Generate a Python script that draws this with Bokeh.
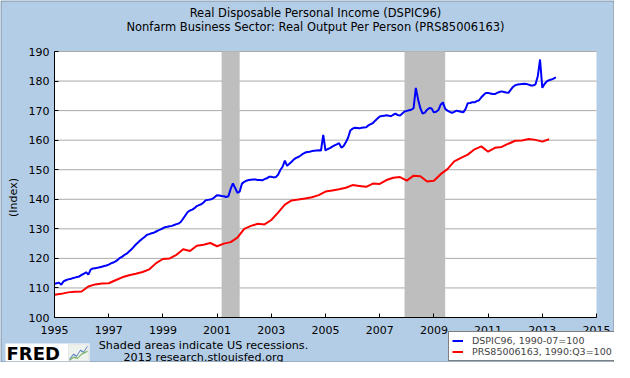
from bokeh.plotting import figure
from bokeh.models import (Label, BoxAnnotation, FixedTicker, Legend, LegendItem,
                          PolyAnnotation, Range1d)
from bokeh.embed import file_html
from bokeh.resources import INLINE

# ---------------- data ----------------
title_1 = "Real Disposable Personal Income (DSPIC96)"
title_2 = "Nonfarm Business Sector: Real Output Per Person (PRS85006163)"
y_label = "(Index)"
series_1_name = "DSPIC96, 1990-07=100"
series_2_name = "PRS85006163, 1990:Q3=100"
note_1 = "Shaded areas indicate US recessions."
note_2 = "2013 research.stlouisfed.org"

x_ticks = [1995, 1997, 1999, 2001, 2003, 2005, 2007, 2009, 2011, 2013, 2015]
x_tick_labels = ["1995", "1997", "1999", "2001", "2003", "2005", "2007",
                 "2009", "2011", "2013", "2015"]
y_ticks = [100, 110, 120, 130, 140, 150, 160, 170, 180, 190]

recession_start = [2001.167, 2007.917]
recession_end = [2001.833, 2009.417]

# DSPIC96 index, monthly from 1995-01
dspic_start_year = 1995
dspic96 = [
    111.4, 111.6, 111.8, 111.1, 112.2, 112.6, 112.9, 113.0, 113.3, 113.5, 113.7, 113.9,  # 1995
    114.4, 114.8, 115.3, 114.5, 116.2, 116.6, 116.7, 116.8, 117.0, 117.2, 117.4, 117.6,  # 1996
    117.9, 118.3, 118.6, 119.0, 119.5, 120.2, 120.6, 121.2, 121.6, 122.3, 123.0, 123.8,  # 1997
    124.7, 125.4, 126.1, 126.7, 127.3, 128.0, 128.2, 128.5, 128.7, 129.1, 129.5, 129.8,  # 1998
    130.2, 130.6, 130.7, 130.9, 131.0, 131.3, 131.6, 131.8, 132.4, 133.5, 134.6, 135.7,  # 1999
    136.2, 136.5, 137.0, 137.7, 138.0, 138.3, 138.9, 139.7, 139.8, 139.9, 140.2, 140.8,  # 2000
    141.4, 141.3, 141.1, 141.0, 140.8, 141.0, 143.5, 145.4, 143.8, 142.2, 142.6, 145.3,  # 2001
    145.9, 146.3, 146.5, 146.6, 146.7, 146.7, 146.5, 146.5, 146.4, 146.8, 147.1, 147.6,  # 2002
    147.6, 147.4, 147.5, 148.3, 149.9, 151.0, 153.1, 151.3, 152.0, 152.7, 153.5, 154.0,  # 2003
    154.3, 154.8, 155.4, 155.8, 156.0, 156.1, 156.3, 156.4, 156.5, 156.6, 156.5, 161.8,  # 2004
    156.5, 157.0, 157.3, 157.8, 158.2, 158.6, 159.0, 157.5, 158.0, 159.3, 160.8, 163.3,  # 2005
    163.9, 164.2, 164.1, 164.0, 164.2, 164.3, 164.4, 165.0, 165.4, 165.8, 166.6, 167.3,  # 2006
    168.0, 168.2, 168.3, 168.4, 168.3, 168.1, 168.6, 169.0, 168.5, 168.3, 169.0, 169.7,  # 2007
    169.9, 170.1, 170.3, 170.8, 177.7, 173.8, 170.8, 169.0, 169.3, 170.3, 170.9, 170.7,  # 2008
    169.4, 169.6, 170.2, 172.0, 172.8, 170.6, 170.0, 169.6, 169.2, 169.6, 170.0, 169.8,  # 2009
    169.6, 169.4, 170.5, 172.5, 172.6, 172.8, 172.8, 173.2, 173.5, 174.5, 175.3, 176.0,  # 2010
    176.0, 175.8, 175.6, 175.6, 176.0, 176.3, 176.5, 176.3, 176.1, 176.0, 177.0, 178.0,  # 2011
    178.6, 178.8, 178.9, 179.0, 179.1, 179.0, 178.8, 178.5, 178.5, 178.9, 181.6, 187.3,  # 2012
    177.7, 179.0, 179.9, 180.3, 180.5, 180.8, 181.3,                                     # 2013
]

# PRS85006163 index, quarterly from 1995Q1
prs_start_year = 1995
prs85006163 = [
    107.7, 108.0, 108.5, 108.7,  # 1995
    108.8, 110.5, 111.2, 111.5,  # 1996
    111.6, 112.6, 113.6, 114.3,  # 1997
    114.8, 115.4, 116.3, 118.4,  # 1998
    119.8, 120.0, 121.2, 123.1,  # 1999
    122.5, 124.3, 124.6, 125.2,  # 2000
    124.1, 125.0, 125.5, 127.0,  # 2001
    130.0, 131.0, 131.7, 131.5,  # 2002
    133.0, 135.5, 138.2, 139.6,  # 2003
    139.9, 140.3, 140.7, 141.4,  # 2004
    142.6, 143.0, 143.4, 143.9,  # 2005
    144.8, 144.5, 144.2, 145.3,  # 2006
    145.2, 146.5, 147.3, 147.5,  # 2007
    146.3, 148.0, 147.8, 146.0,  # 2008
    146.3, 148.5, 150.2, 152.8,  # 2009
    154.0, 155.1, 156.9, 157.9,  # 2010
    156.1, 157.4, 157.7, 158.8,  # 2011
    159.8, 159.9, 160.4, 160.1,  # 2012
    159.5, 160.3,                # 2013
]

dspic_dates = [dspic_start_year + i / 12 for i in range(len(dspic96))]
prs_dates = [prs_start_year + i / 4 for i in range(len(prs85006163))]

# ---------------- layout ----------------
W, H = 614, 362
PL, PT, PW, PH = 54, 51, 542, 266   # plot area (data box) inside the canvas
X0, X1, Y0, Y1 = 1995, 2015, 100, 190
FONT = "DejaVu Sans"
BG = "#B4CDE6"

xpp = (X1 - X0) / PW
ypp = (Y1 - Y0) / PH
x_range = Range1d(X0 - PL * xpp, X1 + (W - PL - PW) * xpp)
y_range = Range1d(Y0 - (H - PT - PH) * ypp, Y1 + PT * ypp)


def sx(fx):
    return fx


def sy(fy):
    return H - fy


p = figure(width=W, height=H, x_range=x_range, y_range=y_range,
           output_backend="svg", toolbar_location=None,
           min_border_left=0, min_border_right=0,
           min_border_top=0, min_border_bottom=0)

p.background_fill_color = BG
p.border_fill_color = BG
p.outline_line_color = None
p.xgrid.grid_line_color = None
p.ygrid.grid_line_color = None

# white plot area
p.quad(left=X0, right=X1, bottom=Y0, top=Y1, fill_color="white", line_color=None)
# horizontal grid lines limited to the plot area
p.segment(x0=X0, x1=X1, y0=y_ticks, y1=y_ticks, line_color="#AAAAAA", line_width=1)
# recessions
p.quad(left=recession_start, right=recession_end, bottom=Y0, top=Y1,
       fill_color="#BEBEBE", line_color=None)

r1 = p.line(dspic_dates, dspic96, line_color="#0000FF", line_width=2)
r2 = p.line(prs_dates, prs85006163, line_color="#FF0000", line_width=2)

p.xaxis.ticker = FixedTicker(ticks=x_ticks)
p.xaxis.major_label_overrides = {t: l for t, l in zip(x_ticks, x_tick_labels)}
p.xaxis.fixed_location = Y0
p.xaxis.bounds = (X0, X1)
p.yaxis.ticker = FixedTicker(ticks=y_ticks)
p.yaxis.fixed_location = X0
p.yaxis.bounds = (Y0, Y1)
for ax in (p.xaxis, p.yaxis):
    ax.axis_line_color = "black"
    ax.axis_line_width = 1
    ax.major_tick_line_color = "black"
    ax.major_tick_in = 4
    ax.major_tick_out = 0
    ax.minor_tick_in = 0
    ax.minor_tick_out = 0
    ax.major_label_text_font = FONT
    ax.major_label_text_font_size = "11px"
    ax.major_label_text_color = "black"
p.xaxis.major_label_standoff = 8
p.yaxis.major_label_standoff = 5

legend = Legend(items=[LegendItem(label=series_1_name, renderers=[r1]),
                       LegendItem(label=series_2_name, renderers=[r2])],
                location=(448, H - 361))
legend.label_text_font = FONT
legend.label_text_font_size = "9.5px"
legend.glyph_width = 11
legend.glyph_height = 9
legend.label_height = 9
legend.label_standoff = 9
legend.spacing = 0
legend.padding = 3
legend.margin = 0
legend.border_line_color = "black"
legend.border_line_width = 1
legend.background_fill_color = "white"
legend.background_fill_alpha = 1
p.add_layout(legend)


def label(text, fx, fy, size="11px", align="center", level="annotation", **kw):
    p.add_layout(Label(x=sx(fx), y=sy(fy), x_units="screen", y_units="screen",
                       text=text, text_align=align, text_baseline="middle",
                       text_font=FONT, text_font_size=size, text_color="black",
                       level=level, **kw))


label(title_1, 315, 12, size="11.5px")
label(title_2, 315, 26, size="11.5px")
label(y_label, 13, 197, angle=1.5708)
label(note_1, 203, 345, size="11.2px")
label(note_2, 203, 356.5, size="11.2px")


def screen_box(l, r, t, b, **kw):
    p.add_layout(BoxAnnotation(left=sx(l), right=sx(r), top=sy(t), bottom=sy(b),
                               left_units="screen", right_units="screen",
                               top_units="screen", bottom_units="screen",
                               level="overlay", **kw))


# FRED logo
screen_box(5, 89, 343, 361, fill_color="white", fill_alpha=1, line_color=None)
label("FRED", 6, 352.5, size="18px", align="left", level="overlay",
      text_font_style="bold")
screen_box(68, 88, 344, 360, fill_color="#EEF2EC", fill_alpha=1, line_color="#C8C8C8")
for pts, col in (([(69, 358), (73, 353), (76, 355), (80, 349), (83, 351), (87, 345)], "#5A7FC0"),
                 ([(69, 359), (73, 356), (77, 357), (81, 353), (87, 350)], "#7DB36A")):
    xs = [sx(a) for a, b in pts] + [sx(a) for a, b in reversed(pts)]
    ys = [sy(b) for a, b in pts] + [sy(b + 1.5) for a, b in reversed(pts)]
    p.add_layout(PolyAnnotation(xs=xs, ys=ys, xs_units="screen", ys_units="screen",
                                fill_color=col, fill_alpha=1, line_color=None,
                                level="overlay"))

# outer border
screen_box(0.5, W - 0.5, 0.5, H - 0.5, fill_alpha=0, line_color="black", line_width=1)

open("out.html", "w").write(file_html(p, INLINE))
